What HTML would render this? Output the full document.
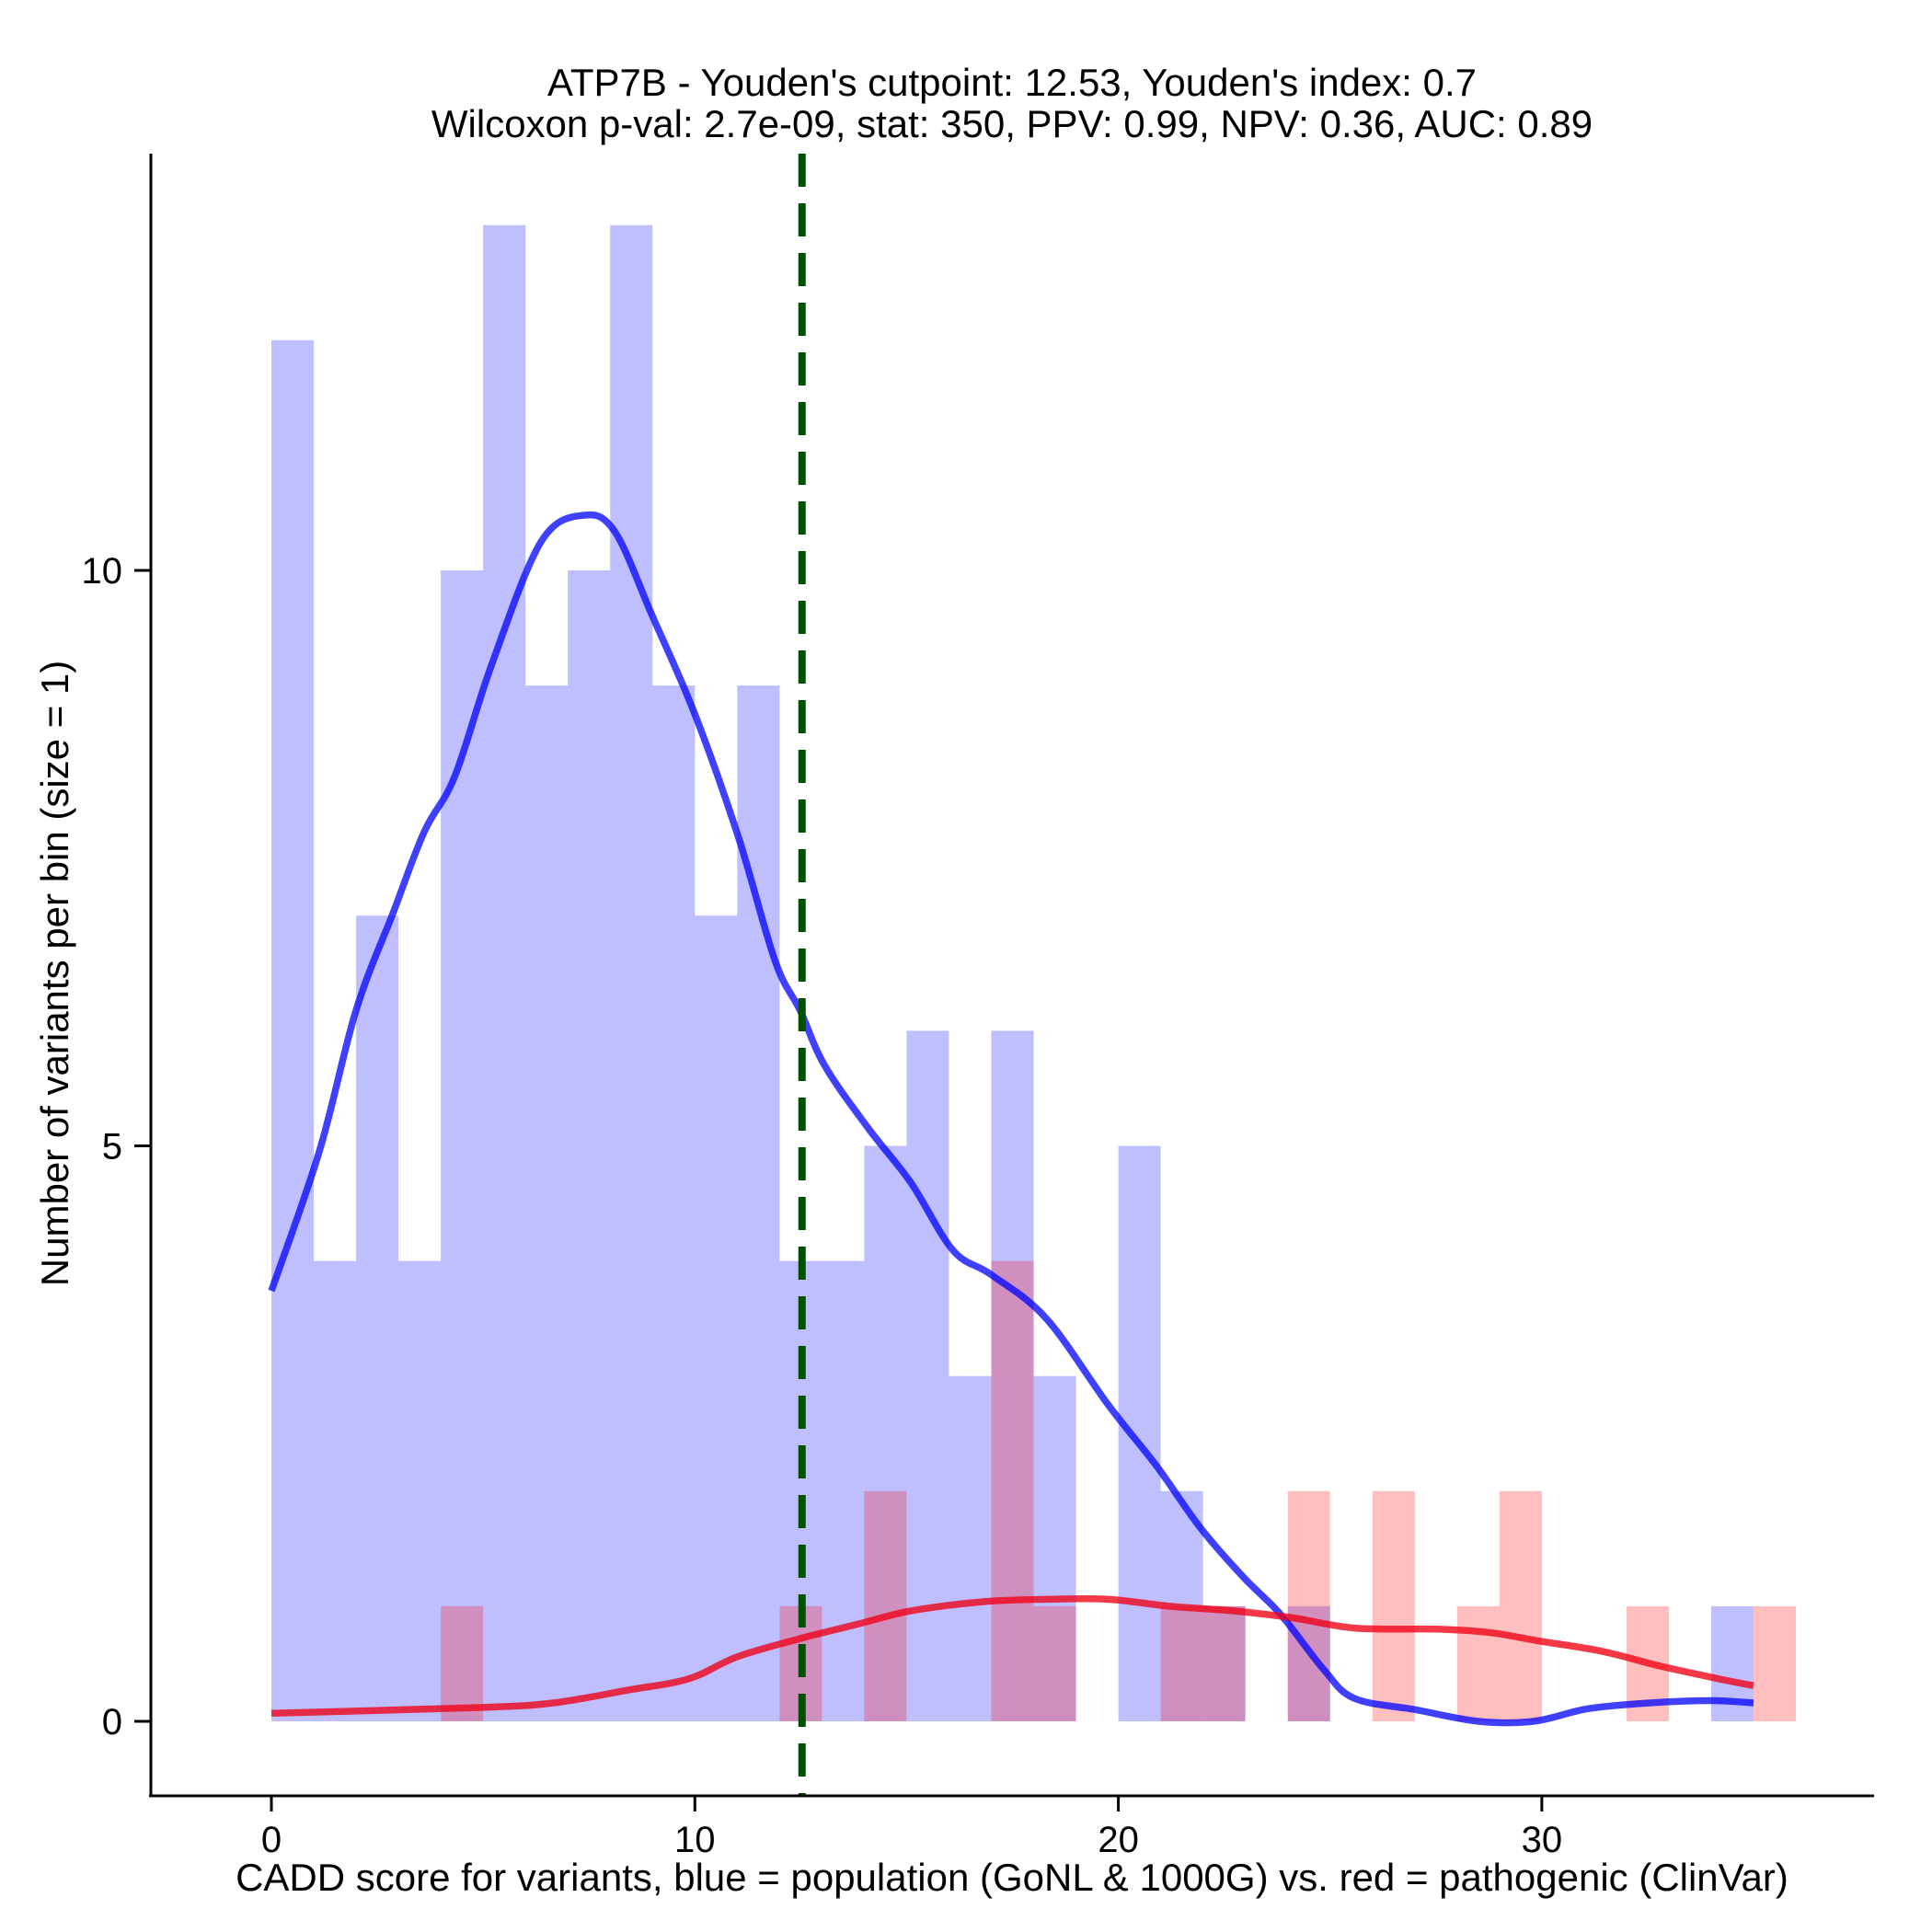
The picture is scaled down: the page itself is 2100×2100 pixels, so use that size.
<!DOCTYPE html>
<html><head><meta charset="utf-8"><style>
html,body{margin:0;padding:0;background:#fff;}
svg{display:block;font-family:"Liberation Sans",Arial,sans-serif;}
</style></head><body>
<svg id="chart" width="2100" height="2100" xmlns="http://www.w3.org/2000/svg">
<rect width="2100" height="2100" fill="#fff"/>
<g id="bars"></g><g id="curves"></g><g id="axes"></g>
<text x="1100" y="104" font-size="42" text-anchor="middle">ATP7B - Youden's cutpoint: 12.53, Youden's index: 0.7</text>
<text x="1100" y="149" font-size="42" text-anchor="middle">Wilcoxon p-val: 2.7e-09, stat: 350, PPV: 0.99, NPV: 0.36, AUC: 0.89</text>
<text x="1100" y="2055" font-size="42" text-anchor="middle">CADD score for variants, blue = population (GoNL &amp; 1000G) vs. red = pathogenic (ClinVar)</text>
<text x="74" y="1058" font-size="42" text-anchor="middle" transform="rotate(-90 74 1058)">Number of variants per bin (size = 1)</text>
</svg>
<script>
const blueCounts = [12,4,7,4,10,13,9,10,13,9,7,9,4,4,5,6,3,6,3,0,5,2,1,0,1,0,0,0,0,0,0,0,0,0,1];
const redBins = [4,12,14,17,18,21,22,24,26,28,29,32,35];
const redCounts = [1,1,2,4,1,1,1,2,2,1,2,1,1];
const blueCurveX = [0,1.13,2.0,2.88,3.61,4.33,5.2,6.37,7.39,8.12,9.0,10.0,11.03,11.9,12.48,13.06,14.08,15.1,16.1,17.0,18.3,19.76,20.9,21.94,22.96,23.83,24.85,25.57,27.03,28.5,29.8,31.1,32.56,34.0,35.0];
const blueCurveY = [3.74,4.95,6.18,7.03,7.73,8.21,9.18,10.25,10.48,10.33,9.6,8.75,7.68,6.6,6.18,5.7,5.16,4.68,4.09,3.88,3.5,2.75,2.22,1.68,1.25,0.93,0.45,0.2,0.1,0,0,0.11,0.16,0.18,0.16];
const redCurveX = [0,4.92,6.66,8.4,9.86,11.0,12.5,13.9,15.1,16.85,18.3,19.76,21.2,22.7,24.1,25.6,27.6,28.8,29.9,31.4,32.8,34.3,35];
const redCurveY = [0.07,0.12,0.16,0.27,0.37,0.56,0.72,0.85,0.96,1.04,1.06,1.06,1.0,0.96,0.9,0.81,0.8,0.77,0.7,0.61,0.48,0.36,0.31];
const cutpoint = 12.53;
const xTicks = [0,10,20,30];
const yTicks = [0,5,10];

const NS = "http://www.w3.org/2000/svg";
const X = v => 295 + v * 46.03;
const Y = v => 1871 - v * 125.1;
function mk(tag, attrs, parent){const e=document.createElementNS(NS,tag);for(const k in attrs)e.setAttribute(k,attrs[k]);parent.appendChild(e);return e;}
const bars = document.getElementById('bars');
blueCounts.forEach((c,i)=>{ if(!c) return;
  const r = mk('rect',{x:X(i),y:Y(c),width:X(i+1)-X(i),height:Y(0)-Y(c),fill:'rgba(0,0,255,0.25)'},bars);
  
  
});
redBins.forEach((b,i)=>{ const c=redCounts[i];
  const r = mk('rect',{x:X(b),y:Y(c),width:X(b+1)-X(b),height:Y(0)-Y(c),fill:'rgba(255,0,0,0.25)'},bars);
  
  
});
const curves = document.getElementById('curves');
function path(xs,ys){
  const p = xs.map((x,i)=>[X(x),Y(ys[i])]);
  let d = 'M'+p[0][0].toFixed(1)+','+p[0][1].toFixed(1);
  for(let i=0;i<p.length-1;i++){
    const p0=p[Math.max(i-1,0)],p1=p[i],p2=p[i+1],p3=p[Math.min(i+2,p.length-1)];
    const c1=[p1[0]+(p2[0]-p0[0])/6,p1[1]+(p2[1]-p0[1])/6];
    const c2=[p2[0]-(p3[0]-p1[0])/6,p2[1]-(p3[1]-p1[1])/6];
    d+=' C'+c1.map(v=>v.toFixed(1)).join(',')+' '+c2.map(v=>v.toFixed(1)).join(',')+' '+p2.map(v=>v.toFixed(1)).join(',');
  }
  return d;
}
const bl = mk('path',{d:path(blueCurveX,blueCurveY),fill:'none',stroke:'rgba(0,0,255,0.75)','stroke-width':7.5,'stroke-linejoin':'round'},curves);


const rl = mk('path',{d:path(redCurveX,redCurveY),fill:'none',stroke:'rgba(240,0,20,0.78)','stroke-width':7.5,'stroke-linejoin':'round'},curves);


const cl = mk('line',{x1:X(cutpoint),x2:X(cutpoint),y1:167,y2:1951,stroke:'#005000','stroke-width':8,'stroke-dasharray':'36 18'},curves);


const axes = document.getElementById('axes');
const ya = mk('line',{x1:164,x2:164,y1:167,y2:1953,stroke:'#000','stroke-width':3},axes);


const xa = mk('line',{x1:162,x2:2037,y1:1952,y2:1952,stroke:'#000','stroke-width':3},axes);


xTicks.forEach(t=>{
  const l = mk('line',{x1:X(t),x2:X(t),y1:1952,y2:1969,stroke:'#000','stroke-width':3},axes);
  
  
  const tx = mk('text',{x:X(t),y:2013,'font-size':40,'text-anchor':'middle'},axes);
  tx.textContent = t;
  
  
});
yTicks.forEach(t=>{
  const l = mk('line',{x1:146,x2:164,y1:Y(t),y2:Y(t),stroke:'#000','stroke-width':3},axes);
  
  
  const tx = mk('text',{x:133,y:Y(t)+14,'font-size':40,'text-anchor':'end'},axes);
  tx.textContent = t;
  
  
});
</script>
</body></html>
